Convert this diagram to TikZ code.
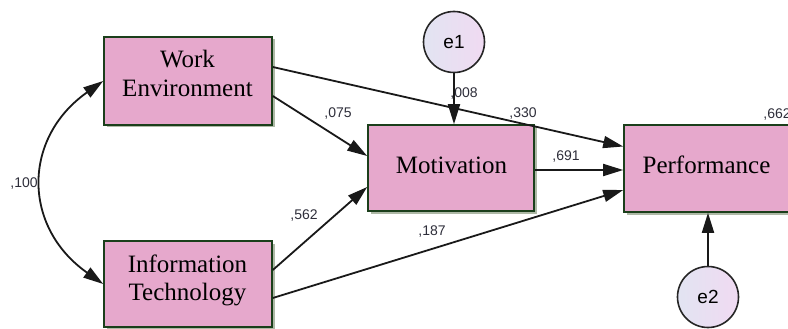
\documentclass[tikz,border=0pt]{standalone}
\usepackage{fontspec}
\setmainfont{Liberation Serif}
\newfontfamily\arialf{Liberation Sans}
\usetikzlibrary{arrows.meta,shadows}
\definecolor{boxfill}{HTML}{E6A8CC}
\definecolor{boxline}{HTML}{1B3F1B}
\definecolor{shadowc}{HTML}{AEB9A6}
\definecolor{circA}{HTML}{E2E4F2}
\definecolor{circB}{HTML}{F0DAF2}
\definecolor{numc}{HTML}{2E2E3A}
\tikzset{
  varbox/.style={draw=boxline, line width=1.6pt, fill=boxfill, minimum width=168pt,
    minimum height=88pt, inner sep=0pt,
    drop shadow={shadow xshift=2.5pt, shadow yshift=-2.5pt, fill=shadowc, opacity=1}},
  errc/.style={circle, draw=black!85, line width=1.6pt, left color=circA, right color=circB,
    minimum size=61pt, inner sep=0pt, font=\arialf\fontsize{19}{19}\selectfont},
  pathc/.style={line width=1.8pt, draw=black!90, -{Triangle[length=20pt,width=12pt]}},
  num/.style={font=\arialf\fontsize{14}{14}\selectfont, text=numc, inner sep=0pt},
  vtext/.style={font=\fontsize{25}{29}\selectfont, inner sep=0pt, anchor=base}
}
\begin{document}
\begin{tikzpicture}[x=1pt,y=-1pt]
\useasboundingbox (0,0) rectangle (788,329);
\fill[white] (0,0) rectangle (788,329);
% boxes
\node[varbox] (WE) at (188,81) {};
\node[varbox, minimum height=86pt] (IT) at (188,284) {};
\node[varbox, minimum width=166pt, minimum height=86pt] (MO) at (451,168) {};
\node[varbox, minimum width=170pt, minimum height=87pt] (PE) at (709,168.5) {};
% box texts
\node[vtext] (WEa) at (187.5,68) {Work};
\node[vtext] (WEb) at (187.5,97) {Environment};
\node[vtext] (ITa) at (187.5,272) {Information};
\node[vtext] (ITb) at (187.5,300) {Technology};
\node[vtext] (MOt) at (451.5,173) {Motivation};
\node[vtext] (PEt) at (706.5,173) {Performance};
% error terms
\node[errc] (e1) at (454,42) {e1};
\node[errc] (e2) at (708,297) {e2};
% paths
\draw[pathc] ([yshift=-15pt]WE.east) -- ([yshift=12pt]MO.west);
\draw[pathc] ([yshift=14pt]WE.east) -- ([yshift=22pt]PE.west);
\draw[pathc] ([yshift=-2pt]MO.east) -- ([yshift=-1.5pt]PE.west);
\draw[pathc] ([yshift=14pt]IT.east) -- ([yshift=-19pt]MO.west);
\draw[pathc] ([yshift=-14pt]IT.east) -- ([yshift=-21.5pt]PE.west);
\draw[pathc] (e1.south) -- (e1.south |- MO.north);
\draw[pathc] (e2.north) -- (e2.north |- PE.south);
\draw[pathc, {Triangle[length=20pt,width=12pt]}-{Triangle[length=20pt,width=12pt]}]
  (WE.west) .. controls +(-81,57) and +(-81,-57) .. (IT.west);
% coefficients
\node[num] (n100) at (24,184) {,100};
\node[num] (n075) at (338,114) {,075};
\node[num] (n008) at (464,94) {,008};
\node[num] (n330) at (523,114) {,330};
\node[num] (n662) at (777,115) {,662};
\node[num] (n691) at (566,157) {,691};
\node[num] (n562) at (304,216) {,562};
\node[num] (n187) at (432,232) {,187};
\end{tikzpicture}
\end{document}
